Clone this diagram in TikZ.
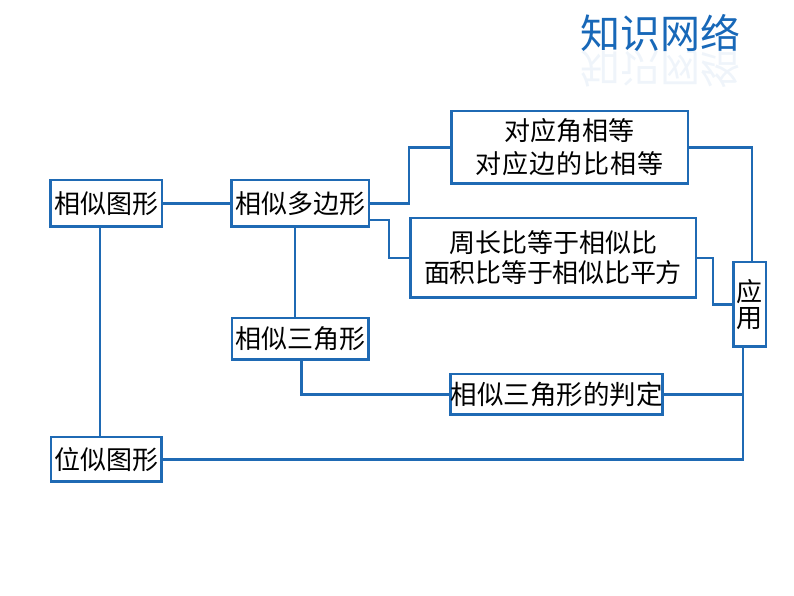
\documentclass[tikz,border=0pt]{standalone}
\usepackage{fontspec}
\newfontfamily\cjk{Noto Sans CJK SC}
\usetikzlibrary{shapes,arrows,positioning}
\definecolor{netblue}{RGB}{31,106,180}
\definecolor{titleblue}{RGB}{24,104,184}
\newcommand{\spread}[2]{{\addfontfeature{LetterSpace=#1}#2}}
\tikzstyle{smallbox}  = [rectangle, draw=netblue, line width=2.5pt, fill=white, inner sep=0pt, align=center, font=\cjk\fontsize{26}{26}\selectfont]
\tikzstyle{bigbox}    = [smallbox, font=\cjk\fontsize{26}{33}\selectfont]
\tikzstyle{title}     = [inner sep=0pt, text=titleblue, font=\cjk\fontsize{40}{40}\selectfont]
\tikzstyle{line}      = [draw=netblue, line width=2.2pt]
\begin{document}
\begin{tikzpicture}[x=1pt, y=1pt, node distance=194pt]
        \useasboundingbox (0,0) rectangle (794,596);
        \node [title] (head) at (660,563) {知识网络};
        \node [title, opacity=.07, yscale=-1] (headmirror) at (660,527) {知识网络};

        \node [smallbox, minimum width=111.5pt, minimum height=46.5pt] (similar) at (106,392.5) {相似图形};
        \node [smallbox, minimum width=137.5pt, minimum height=46.5pt, right of=similar] (polygon) {相似多边形};
        \node [smallbox, minimum width=136.5pt, minimum height=41.5pt, below of=polygon, node distance=135.5pt] (triangle) {相似三角形};
        \node [smallbox, minimum width=110.5pt, minimum height=44.5pt, below of=similar, node distance=256pt] (homothetic) {位似图形};
        \node [bigbox, minimum width=236.5pt, minimum height=72.5pt] (angles) at (569.5,448.5) {对应角相等\\\spread{4}{对应边的比相等}};
        \node [bigbox, minimum width=285.5pt, minimum height=79.5pt, font=\cjk\fontsize{26}{30}\selectfont] (ratios) at (553,338) {周长比等于相似比\\\spread{-1}{面积比等于相似比平方}};
        \node [smallbox, minimum width=32.5pt, minimum height=84.5pt] (apply) at (749.5,291.5) {应\\用};
        \node [smallbox, minimum width=210.5pt, minimum height=40.5pt, font=\cjk\fontsize{26.5}{27}\selectfont] (criteria) at (556.5,201.5) {相似三角形的判定};
        \coordinate (foot) at ([xshift=-6.5pt]apply.south);

        \path [line] (similar) -- (polygon);
        \path [line] (polygon.east) -- ++(39pt,0) |- (angles.west);
        \path [line] ([yshift=-16.5pt]polygon.east) -- ++(19pt,0) |- (ratios.west);
        \path [line] (angles.east) -| ([xshift=2.5pt]apply.north);
        \path [line] (ratios.east) -- ++(16pt,0) |- (apply.west);
        \path [line] ([xshift=-6pt]similar.south) -- ([xshift=-6pt]homothetic.north);
        \path [line] ([xshift=-5pt]polygon.south) -- ([xshift=-5pt]triangle.north);
        \path [line] ([xshift=1.5pt]triangle.south) |- (criteria.west);
        \path [line] (homothetic.east) -| (foot);
        \path [line] (criteria.east) -- (criteria.east -| foot);
      \end{tikzpicture}
\end{document}
